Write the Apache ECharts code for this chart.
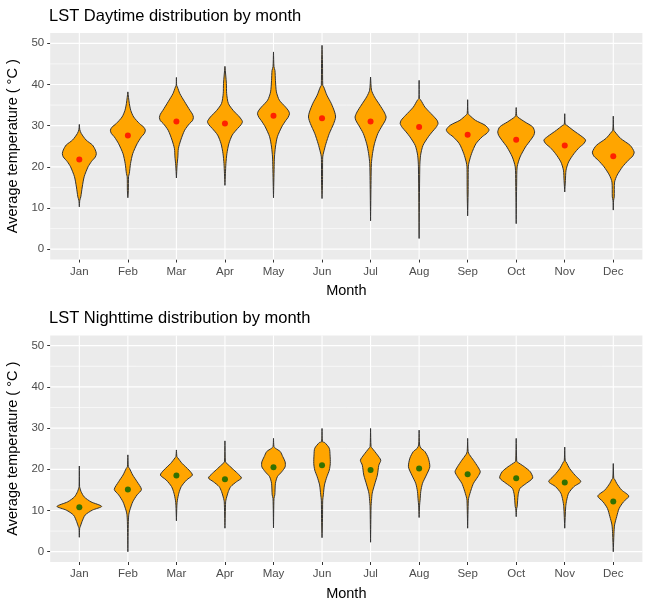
<!DOCTYPE html>
<html lang="en">
<head>
    <meta charset="utf-8"/>
    <title>LST distribution by month</title>
    <script type="text/javascript" src="https://cdn.jsdelivr.net/npm/echarts@6/dist/echarts.min.js"></script>
    <style>
        html, body {
            margin: 0;
            background: #FFFFFF;
        }

        #chart {
            width: 650px;
            height: 605px;
        }
    </style>
</head>
<body>
<div id="chart"></div>
<script>
    var months = ['Jan', 'Feb', 'Mar', 'Apr', 'May', 'Jun', 'Jul', 'Aug', 'Sep', 'Oct', 'Nov', 'Dec'];
    var yMajor = [0, 10, 20, 30, 40, 50];
    var yMinor = [5, 15, 25, 35, 45];

    // mean temperature per month (dots)
    var dayMean = [21.8, 27.6, 31.0, 30.5, 32.4, 31.8, 31.0, 29.7, 27.8, 26.6, 25.2, 22.6];
    var nightMean = [10.8, 15.1, 18.5, 17.6, 20.5, 21.0, 19.8, 20.2, 18.8, 17.8, 16.8, 12.2];

    // violin outline per month: [temperature, half width in month units], top to bottom
    var dayProfiles = [
        [[30.3, 0], [29.0, 0.01], [28.1, 0.04], [26.5, 0.14], [25.3, 0.27], [24.1, 0.33], [23.2, 0.35], [22.4, 0.33], [21.3, 0.25], [20.0, 0.18], [17.6, 0.10], [15.1, 0.06], [12.7, 0.03], [11.9, 0.01], [10.3, 0]],
        [[38.2, 0], [35.4, 0.03], [33.7, 0.06], [32.1, 0.12], [30.5, 0.24], [29.6, 0.33], [28.9, 0.36], [28.1, 0.34], [27.3, 0.28], [25.6, 0.19], [23.2, 0.10], [20.8, 0.055], [18.4, 0.03], [17.6, 0.014], [14.3, 0.01], [12.5, 0]],
        [[41.7, 0], [39.8, 0.005], [39.4, 0.02], [37.8, 0.07], [35.8, 0.17], [33.7, 0.28], [32.8, 0.33], [32.0, 0.35], [31.2, 0.33], [30.5, 0.27], [28.9, 0.17], [26.5, 0.09], [24.4, 0.04], [22.4, 0.03], [20.4, 0.014], [17.3, 0]],
        [[44.4, 0], [40.2, 0.03], [37.8, 0.035], [35.4, 0.07], [33.7, 0.17], [32.1, 0.30], [31.0, 0.36], [30.2, 0.33], [29.3, 0.26], [27.7, 0.15], [25.6, 0.08], [23.2, 0.04], [20.8, 0.02], [18.4, 0.01], [15.5, 0]],
        [[47.9, 0], [44.3, 0.01], [43.4, 0.03], [41.0, 0.04], [38.2, 0.06], [36.2, 0.12], [34.5, 0.25], [33.6, 0.31], [32.9, 0.33], [32.0, 0.30], [31.2, 0.25], [29.7, 0.17], [27.3, 0.08], [24.8, 0.04], [22.4, 0.02], [20.1, 0.014], [12.5, 0]],
        [[49.5, 0], [45.1, 0.01], [39.8, 0.015], [39.4, 0.035], [37.4, 0.10], [35.4, 0.19], [33.3, 0.26], [32.1, 0.28], [30.5, 0.24], [28.1, 0.15], [25.6, 0.08], [23.6, 0.035], [22.4, 0.014], [16.3, 0.01], [12.3, 0]],
        [[41.8, 0], [38.6, 0.02], [37.0, 0.08], [35.0, 0.19], [33.3, 0.28], [32.1, 0.32], [31.2, 0.30], [30.0, 0.24], [28.1, 0.15], [25.6, 0.08], [23.2, 0.04], [20.8, 0.017], [16.7, 0.01], [6.9, 0]],
        [[41.0, 0], [36.6, 0.005], [36.2, 0.035], [34.5, 0.12], [32.5, 0.28], [31.3, 0.37], [30.5, 0.39], [29.6, 0.35], [28.5, 0.27], [27.3, 0.19], [25.2, 0.08], [22.8, 0.03], [20.0, 0.014], [2.6, 0]],
        [[36.3, 0], [32.9, 0.01], [32.5, 0.04], [31.3, 0.16], [30.1, 0.36], [29.0, 0.44], [28.2, 0.40], [27.3, 0.30], [25.6, 0.17], [23.2, 0.08], [21.2, 0.03], [20.0, 0.014], [13.9, 0.01], [8.1, 0]],
        [[34.4, 0], [32.5, 0.01], [32.1, 0.03], [30.9, 0.18], [29.7, 0.34], [28.5, 0.38], [27.6, 0.36], [26.4, 0.29], [24.8, 0.19], [22.4, 0.08], [20.0, 0.02], [16.3, 0.01], [6.2, 0]],
        [[32.9, 0], [30.3, 0.01], [30.1, 0.04], [28.9, 0.17], [27.3, 0.36], [26.5, 0.43], [25.6, 0.39], [24.7, 0.30], [23.2, 0.19], [21.2, 0.08], [19.2, 0.027], [16.7, 0.014], [13.9, 0]],
        [[32.3, 0], [28.9, 0.01], [28.5, 0.034], [26.9, 0.15], [25.2, 0.35], [23.6, 0.43], [22.6, 0.40], [21.6, 0.31], [20.0, 0.19], [18.0, 0.08], [16.3, 0.027], [12.7, 0.02], [11.9, 0.007], [9.5, 0]]
    ];

    var nightProfiles = [
        [[20.8, 0], [15.8, 0.005], [15.4, 0.014], [14.6, 0.035], [13.3, 0.10], [12.1, 0.24], [11.0, 0.46], [10.1, 0.27], [8.9, 0.12], [7.3, 0.055], [6.1, 0.02], [5.7, 0.007], [3.5, 0]],
        [[23.5, 0], [20.6, 0.01], [20.2, 0.034], [18.6, 0.10], [17.0, 0.19], [15.1, 0.28], [13.8, 0.19], [12.1, 0.10], [10.1, 0.04], [9.1, 0.02], [7.3, 0.01], [0, 0]],
        [[24.7, 0], [23.1, 0.01], [22.8, 0.027], [21.4, 0.12], [19.8, 0.26], [18.6, 0.33], [17.4, 0.21], [15.8, 0.10], [14.2, 0.05], [12.5, 0.02], [11.3, 0.01], [7.5, 0]],
        [[26.9, 0], [21.8, 0.01], [21.4, 0.04], [20.2, 0.15], [19.0, 0.26], [17.9, 0.34], [17.0, 0.24], [15.8, 0.12], [14.6, 0.07], [12.9, 0.027], [12.1, 0.014], [5.7, 0]],
        [[27.5, 0], [25.5, 0.01], [25.1, 0.04], [24.3, 0.14], [23.1, 0.19], [21.8, 0.24], [20.6, 0.24], [19.4, 0.17], [18.2, 0.08], [16.6, 0.04], [13.8, 0.027], [12.9, 0.01], [5.8, 0]],
        [[29.9, 0], [26.7, 0.01], [26.5, 0.055], [25.1, 0.15], [23.5, 0.165], [21.4, 0.17], [19.8, 0.15], [18.2, 0.10], [16.2, 0.05], [13.8, 0.027], [12.5, 0.014], [8.1, 0.01], [3.4, 0]],
        [[29.9, 0], [25.5, 0.01], [25.1, 0.034], [23.5, 0.14], [22.2, 0.21], [21.0, 0.17], [18.6, 0.14], [16.2, 0.08], [14.2, 0.034], [12.5, 0.02], [10.9, 0.01], [2.3, 0]],
        [[29.5, 0], [25.9, 0.01], [25.1, 0.04], [24.3, 0.12], [22.7, 0.19], [20.6, 0.22], [18.6, 0.15], [16.6, 0.07], [14.6, 0.034], [12.5, 0.02], [11.3, 0.01], [8.3, 0]],
        [[27.5, 0], [24.3, 0.01], [23.6, 0.034], [22.2, 0.12], [20.6, 0.21], [19.4, 0.26], [18.2, 0.21], [16.6, 0.12], [15.0, 0.07], [13.3, 0.027], [12.5, 0.014], [5.7, 0]],
        [[27.5, 0], [22.0, 0.01], [21.8, 0.02], [20.6, 0.17], [19.4, 0.29], [17.9, 0.34], [16.6, 0.21], [15.4, 0.08], [13.8, 0.04], [10.9, 0.02], [10.5, 0.01], [8.5, 0]],
        [[25.4, 0], [22.0, 0.01], [21.8, 0.027], [20.2, 0.10], [18.6, 0.21], [17.0, 0.33], [15.8, 0.19], [14.2, 0.08], [12.5, 0.04], [10.9, 0.02], [5.7, 0]],
        [[21.4, 0], [17.8, 0.01], [17.6, 0.027], [16.6, 0.07], [15.0, 0.17], [13.5, 0.32], [12.1, 0.21], [10.5, 0.12], [8.5, 0.07], [6.5, 0.027], [4.4, 0.014], [0, 0]]
    ];

    var FONT = '"Liberation Sans", Arial, sans-serif';
    var monthPos = months.map(function (m, i) { return i + 1; });

    var chart = echarts.init(document.getElementById('chart'), null, {renderer: 'canvas'});

    function violinRender(profiles) {
        return function (params, api) {
            var x = api.value(0);
            var prof = profiles[params.dataIndex];
            var right = prof.map(function (p) { return api.coord([x + p[1], p[0]]); });
            var left = prof.slice().reverse().map(function (p) { return api.coord([x - p[1], p[0]]); });
            return {
                type: 'polygon',
                shape: {points: right.concat(left), smooth: 0.25},
                style: {fill: '#FFA500', stroke: '#333333', lineWidth: 1}
            };
        };
    }

    function hLineRender(width) {
        return function (params, api) {
            var cs = params.coordSys;
            var y = api.coord([1, api.value(1)])[1];
            return {
                type: 'line',
                shape: {x1: cs.x, y1: y, x2: cs.x + cs.width, y2: y},
                style: {stroke: '#FFFFFF', lineWidth: width}
            };
        };
    }

    function vLineRender(params, api) {
        var cs = params.coordSys;
        var x = api.coord([api.value(0), 0])[0];
        return {
            type: 'line',
            shape: {x1: x, y1: cs.y, x2: x, y2: cs.y + cs.height},
            style: {stroke: '#FFFFFF', lineWidth: 1.1}
        };
    }

    function panelSeries(idx, profiles, means, dotColor) {
        return [
            {
                type: 'custom', xAxisIndex: idx, yAxisIndex: idx, z: 1, silent: true,
                renderItem: hLineRender(0.6),
                data: yMinor.map(function (v) { return [1, v]; })
            },
            {
                type: 'custom', xAxisIndex: idx, yAxisIndex: idx, z: 1, silent: true,
                renderItem: hLineRender(1.2),
                data: yMajor.map(function (v) { return [1, v]; })
            },
            {
                type: 'custom', xAxisIndex: idx, yAxisIndex: idx, z: 1, silent: true,
                renderItem: vLineRender,
                data: monthPos.map(function (p) { return [p, 0]; })
            },
            {
                type: 'custom', xAxisIndex: idx, yAxisIndex: idx, z: 2, clip: false,
                renderItem: violinRender(profiles),
                data: monthPos.map(function (p, i) { return [p, means[i]]; })
            },
            {
                type: 'scatter', xAxisIndex: idx, yAxisIndex: idx, z: 3,
                symbol: 'circle', symbolSize: 6,
                itemStyle: {color: dotColor},
                data: monthPos.map(function (p, i) { return [p, means[i]]; })
            }
        ];
    }

    function xAxisFor(idx) {
        return {
            gridIndex: idx, type: 'value', min: 0.4, max: 12.6, position: 'bottom',
            axisLine: {show: false, onZero: false},
            axisTick: {show: true, length: 3, customValues: monthPos, lineStyle: {color: '#333333', width: 1}},
            axisLabel: {
                customValues: monthPos, margin: 6, color: '#4D4D4D', fontSize: 11.5, fontFamily: FONT,
                formatter: function (v) { return months[Math.round(v) - 1]; }
            },
            splitLine: {show: false},
            name: 'Month', nameLocation: 'middle', nameGap: 24,
            nameTextStyle: {color: '#000000', fontSize: 14.5, fontFamily: FONT}
        };
    }

    function yAxisFor(idx) {
        return {
            gridIndex: idx, type: 'value', min: -2.5, max: 52.5,
            axisLine: {show: false, onZero: false},
            axisTick: {show: true, length: 3, customValues: yMajor, lineStyle: {color: '#333333', width: 1}},
            axisLabel: {customValues: yMajor, margin: 6, color: '#4D4D4D', fontSize: 11.5, fontFamily: FONT},
            splitLine: {show: false},
            name: 'Average temperature ( °C )', nameLocation: 'middle', nameGap: 27,
            nameTextStyle: {color: '#000000', fontSize: 14.5, fontFamily: FONT}
        };
    }

    chart.setOption({
        animation: false,
        title: [
            {
                text: 'LST Daytime distribution by month', left: 49, top: 8, padding: 0,
                textStyle: {fontSize: 16.5, fontWeight: 'normal', color: '#000000', fontFamily: FONT}
            },
            {
                text: 'LST Nighttime distribution by month', left: 49, top: 310, padding: 0,
                textStyle: {fontSize: 16.5, fontWeight: 'normal', color: '#000000', fontFamily: FONT}
            }
        ],
        grid: [
            {
                left: 50.2, right: 7.6, top: 33, height: 226.5, show: true, backgroundColor: '#EBEBEB',
                borderWidth: 0, outerBoundsMode: 'none', containLabel: false
            },
            {
                left: 50.2, right: 7.6, top: 335.4, height: 226.6, show: true, backgroundColor: '#EBEBEB',
                borderWidth: 0, outerBoundsMode: 'none', containLabel: false
            }
        ],
        xAxis: [xAxisFor(0), xAxisFor(1)],
        yAxis: [yAxisFor(0), yAxisFor(1)],
        series: panelSeries(0, dayProfiles, dayMean, '#FF0000')
            .concat(panelSeries(1, nightProfiles, nightMean, '#006400'))
    });
</script>
</body>
</html>
